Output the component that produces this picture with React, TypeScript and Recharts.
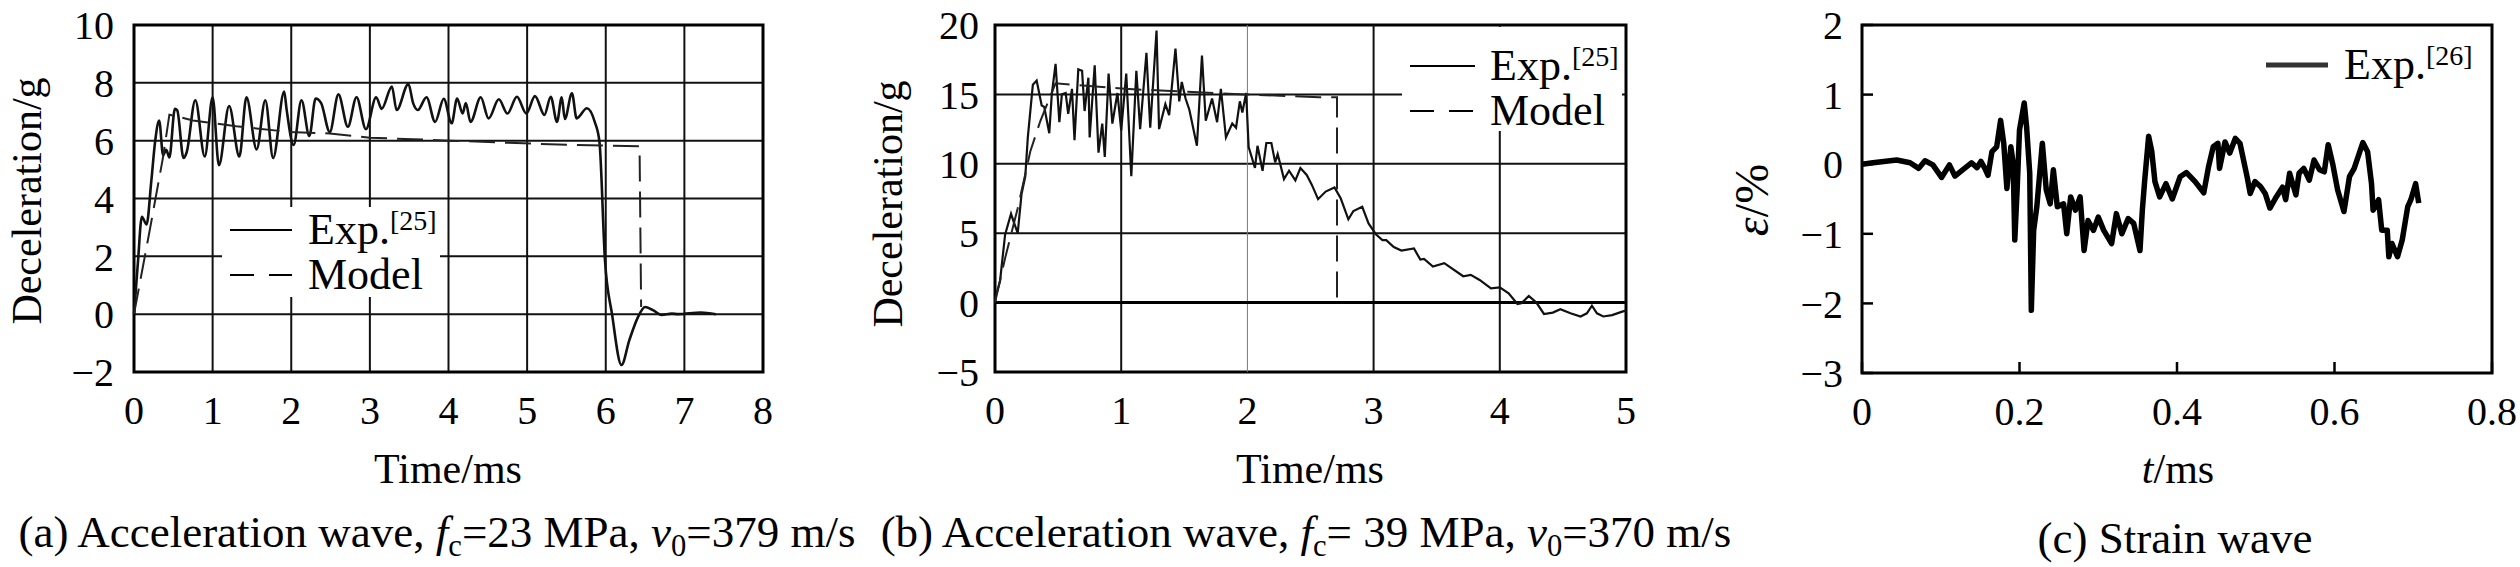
import type { ReactNode } from 'react'
import { CartesianGrid, Legend, Line, LineChart, ReferenceArea, ReferenceLine, XAxis, YAxis } from 'recharts'

const FONT = '"Liberation Serif", "Times New Roman", serif'

// (a) acceleration wave, fc = 23 MPa
const aTimeTicks = [0, 1, 2, 3, 4, 5, 6, 7, 8]
const aDecelTicks = [-2, 0, 2, 4, 6, 8, 10]
const aExp: [number, number][] = [
  [0, 0], [0.05, 1.8], [0.1, 3.37], [0.16, 3.1], [0.22, 4.6], [0.27, 6.0], [0.32, 6.7], [0.37, 5.5],
  [0.41, 5.68], [0.45, 5.42], [0.52, 7.1], [0.55, 7.05], [0.63, 5.4], [0.67, 5.6], [0.78, 7.4], [0.9, 5.45],
  [1.0, 7.5], [1.08, 5.15], [1.21, 7.2], [1.34, 5.45], [1.43, 7.5], [1.56, 5.7], [1.67, 7.4], [1.77, 5.4],
  [1.91, 7.7], [1.94, 7.1], [2.03, 5.85], [2.13, 7.4], [2.23, 6.16], [2.31, 7.46], [2.38, 7.3], [2.49, 6.3],
  [2.6, 7.6], [2.72, 6.48], [2.83, 7.5], [2.95, 6.4], [3.08, 7.5], [3.15, 7.1], [3.28, 7.87], [3.34, 7.06],
  [3.49, 7.96], [3.55, 7.3], [3.61, 7.06], [3.72, 7.5], [3.83, 6.65], [3.94, 7.45], [4.04, 6.6], [4.11, 7.46],
  [4.18, 6.94], [4.22, 7.3], [4.28, 6.65], [4.41, 7.5], [4.51, 6.77], [4.64, 7.43], [4.75, 6.94], [4.87, 7.52],
  [4.99, 6.94], [5.1, 7.54], [5.22, 6.89], [5.3, 7.52], [5.38, 6.65], [5.44, 7.5], [5.48, 6.75], [5.57, 7.64],
  [5.63, 6.77], [5.76, 7.12], [5.86, 6.65], [5.92, 5.96], [5.99, 1.87], [6.08, 0], [6.2, -1.76], [6.3, -0.9],
  [6.41, -0.1], [6.5, 0.25], [6.6, 0.14], [6.71, -0.03], [6.84, 0.02], [6.92, 0], [7.21, 0.06], [7.4, 0],
]
const aModel: [number, number][] = [
  [0, 0], [0.2, 2.9], [0.37, 5.44], [0.45, 6.9], [0.75, 6.7], [1.3, 6.5], [1.98, 6.3], [2.49, 6.25],
  [3.0, 6.1], [3.55, 6.05], [4.02, 6.0], [4.73, 5.93], [5.57, 5.85], [6.43, 5.81], [6.45, 0.25],
]

// (b) acceleration wave, fc = 39 MPa
const bTimeTicks = [0, 1, 2, 3, 4, 5]
const bDecelTicks = [-5, 0, 5, 10, 15, 20]
const bExp: [number, number][] = [
  [0, 0.24], [0.04, 1.56], [0.08, 4.9], [0.127, 6.4], [0.145, 5.9], [0.18, 5.0], [0.21, 7.8], [0.24, 9.1],
  [0.26, 11.9], [0.3, 15.7], [0.33, 16.0], [0.37, 14.2], [0.39, 14.1], [0.43, 12.2], [0.45, 15.0], [0.48, 17.2],
  [0.51, 13.0], [0.53, 15.0], [0.56, 15.1], [0.58, 13.6], [0.61, 15.4], [0.63, 11.7], [0.66, 16.8], [0.69, 16.7],
  [0.71, 13.8], [0.74, 16.2], [0.75, 11.9], [0.79, 17.1], [0.82, 10.8], [0.85, 12.9], [0.87, 10.5], [0.9, 16.5],
  [0.93, 12.9], [0.97, 15.1], [1.0, 12.4], [1.04, 16.5], [1.08, 9.1], [1.12, 16.7], [1.15, 12.5], [1.2, 18.0],
  [1.23, 12.6], [1.28, 19.6], [1.3, 12.5], [1.35, 14.3], [1.38, 13.5], [1.43, 18.3], [1.46, 14.5], [1.48, 15.9],
  [1.51, 14.7], [1.54, 13.9], [1.6, 11.3], [1.64, 17.8], [1.67, 13.1], [1.72, 14.7], [1.76, 13.0], [1.79, 15.4],
  [1.83, 11.9], [1.88, 12.9], [1.91, 12.6], [1.94, 14.5], [1.96, 13.7], [1.99, 15.1], [2.01, 11.2], [2.06, 9.7],
  [2.08, 11.3], [2.12, 9.5], [2.15, 11.5], [2.19, 11.5], [2.22, 10.1], [2.24, 10.7], [2.29, 8.9], [2.33, 9.5],
  [2.38, 8.8], [2.42, 9.7], [2.47, 9.2], [2.51, 8.5], [2.56, 7.45], [2.62, 8.0], [2.69, 8.3], [2.74, 7.5],
  [2.8, 6.0], [2.84, 6.6], [2.91, 6.9], [2.96, 5.7], [3.02, 4.9], [3.07, 4.5], [3.1, 4.5], [3.16, 4.0],
  [3.22, 3.75], [3.32, 3.9], [3.37, 3.1], [3.4, 3.15], [3.47, 2.6], [3.56, 2.84], [3.71, 1.9], [3.77, 2.0],
  [3.84, 1.63], [3.93, 1.03], [4.0, 1.1], [4.07, 0.67], [4.14, -0.1], [4.17, -0.05], [4.23, 0.48], [4.29, 0],
  [4.35, -0.82], [4.42, -0.72], [4.48, -0.48], [4.56, -0.77], [4.64, -1.0], [4.69, -0.77], [4.73, -0.22],
  [4.77, -0.77], [4.82, -1.0], [4.89, -0.9], [4.97, -0.65], [5.0, -0.58],
]
const bModel: [number, number][] = [
  [0, 0], [0.08, 3.2], [0.18, 6.8], [0.28, 10.9], [0.36, 13.1], [0.48, 15.8], [1.03, 15.4], [1.35, 15.26],
  [1.98, 15.0], [2.57, 14.8], [2.71, 14.8], [2.71, 0.2],
]

// (c) strain wave
const cTimeTicks = [0, 0.2, 0.4, 0.6, 0.8]
const cStrainTicks = [-3, -2, -1, 0, 1, 2]
const cExp: [number, number][] = [
  [0, 0], [0.014, 0.02], [0.044, 0.06], [0.061, 0.02], [0.072, -0.06], [0.08, 0.05], [0.09, -0.01],
  [0.101, -0.19], [0.111, -0.01], [0.118, -0.17], [0.129, -0.07], [0.139, 0.02], [0.146, -0.05], [0.151, 0.04],
  [0.156, -0.06], [0.16, -0.16], [0.165, 0.18], [0.171, 0.25], [0.176, 0.63], [0.18, 0.3], [0.184, -0.35],
  [0.189, 0.25], [0.192, 0.01], [0.194, -1.09], [0.197, -0.37], [0.2, 0.49], [0.206, 0.88], [0.209, 0.54],
  [0.213, -0.13], [0.215, -2.1], [0.218, -0.95], [0.222, -0.61], [0.229, 0.3], [0.234, -0.37], [0.239, -0.57],
  [0.243, -0.08], [0.248, -0.61], [0.256, -0.57], [0.26, -1.0], [0.265, -0.47], [0.271, -0.66], [0.277, -0.47],
  [0.282, -1.24], [0.287, -0.81], [0.294, -0.95], [0.3, -0.76], [0.307, -0.95], [0.317, -1.14], [0.323, -0.71],
  [0.33, -1.0], [0.338, -0.78], [0.345, -0.85], [0.353, -1.24], [0.356, -0.66], [0.359, -0.23], [0.364, 0.4],
  [0.368, 0.18], [0.372, -0.25], [0.378, -0.47], [0.386, -0.28], [0.394, -0.5], [0.404, -0.18], [0.412, -0.12],
  [0.423, -0.25], [0.434, -0.41], [0.44, -0.04], [0.446, 0.25], [0.452, 0.3], [0.454, -0.06], [0.461, 0.32],
  [0.467, 0.16], [0.474, 0.37], [0.48, 0.3], [0.489, -0.18], [0.493, -0.42], [0.499, -0.25], [0.506, -0.32],
  [0.512, -0.42], [0.518, -0.63], [0.525, -0.49], [0.534, -0.33], [0.538, -0.51], [0.543, -0.13], [0.551, -0.44],
  [0.555, -0.13], [0.561, -0.06], [0.568, -0.23], [0.574, 0.06], [0.581, -0.08], [0.587, -0.11], [0.592, 0.28],
  [0.598, -0.01], [0.604, -0.37], [0.612, -0.68], [0.619, -0.18], [0.625, -0.06], [0.636, 0.31], [0.642, 0.18],
  [0.647, -0.28], [0.649, -0.66], [0.656, -0.51], [0.66, -0.95], [0.667, -0.95], [0.669, -1.33], [0.673, -1.14],
  [0.68, -1.33], [0.686, -1.09], [0.693, -0.61], [0.697, -0.51], [0.703, -0.28], [0.707, -0.56],
]

const toRows = (points: [number, number][]) => points.map(([t, v]) => ({ t, v }))
const minus = (v: number) => String(v).replace('-', '\u2212')
const tickStyle = { fontFamily: FONT, fontSize: 40, fill: '#000' }

const seriesNotes: Record<string, string> = { 'Exp.a': '[25]', 'Exp.b': '[25]', 'Exp.c': '[26]' }

function LegendBox({ payload, panel, sample, gap, rowHeight, thick = 2 }: { payload?: any[]; panel: string; sample: number; gap: number; rowHeight: number; thick?: number }) {
  return (
    <div style={{ fontFamily: FONT, fontSize: 44, color: '#000', lineHeight: 1 }}>
      {(payload ?? []).map((entry) => {
        const props = entry.payload ?? {}
        const note = seriesNotes[`${entry.value}${panel}`]
        return (
          <div key={entry.value} style={{ display: 'flex', alignItems: 'center', height: rowHeight }}>
            <svg width={sample} height={10} style={{ flex: 'none' }}>
              <line
                x1={0}
                x2={sample}
                y1={5}
                y2={5}
                stroke={thick > 3 ? '#333' : '#000'}
                strokeWidth={thick}
                strokeDasharray={props.strokeDasharray ? '24 15' : undefined}
              />
            </svg>
            <span style={{ marginLeft: gap, whiteSpace: 'nowrap' }}>
              {entry.value}
              {note ? <sup style={{ fontSize: 28, verticalAlign: 14 }}>{note}</sup> : null}
            </span>
          </div>
        )
      })}
    </div>
  )
}

function Text({ x, y, size = 42, rotate = false, children }: { x: number; y: number; size?: number; rotate?: boolean; children: ReactNode }) {
  return (
    <div
      style={{
        position: 'absolute',
        left: x,
        top: y,
        transform: `translate(-50%, -50%)${rotate ? ' rotate(-90deg)' : ''}`,
        fontFamily: FONT,
        fontSize: size,
        lineHeight: 1,
        whiteSpace: 'nowrap',
        color: '#000',
      }}
    >
      {children}
    </div>
  )
}

const sub = { fontSize: '0.68em', verticalAlign: '-0.3em' }

function PanelA() {
  return (
    <div style={{ position: 'absolute', left: 0, top: 0 }}>
      <LineChart width={800} height={440} margin={{ top: 25, right: 37, bottom: 0, left: 0 }}>
        <CartesianGrid stroke="#111" strokeWidth={2} />
        <XAxis type="number" dataKey="t" domain={[0, 8]} ticks={aTimeTicks} interval={0} height={68} axisLine={false} tickLine={false} tickSize={0} tickMargin={24} tick={tickStyle} />
        <YAxis type="number" domain={[-2, 10]} ticks={aDecelTicks} interval={0} width={134} axisLine={false} tickLine={false} tickSize={0} tickMargin={20} tick={tickStyle} tickFormatter={minus} />
        <ReferenceArea x1={0} x2={8} y1={-2} y2={10} fill="none" stroke="#000" strokeWidth={3} />
        <Line data={toRows(aExp)} dataKey="v" name="Exp." type="monotone" stroke="#111" strokeWidth={2.6} dot={false} activeDot={false} isAnimationActive={false} />
        <Line data={toRows(aModel)} dataKey="v" name="Model" type="linear" stroke="#222" strokeWidth={2} strokeDasharray="26 10" dot={false} activeDot={false} isAnimationActive={false} />
        <Legend
          layout="vertical"
          align="center"
          verticalAlign="middle"
          wrapperStyle={{ left: 222, top: 207, width: 210, height: 90, background: '#fff', paddingLeft: 8 }}
          content={(props: any) => <LegendBox payload={props.payload} panel="a" sample={62} gap={16} rowHeight={45} />}
        />
      </LineChart>
    </div>
  )
}

function PanelB() {
  return (
    <div style={{ position: 'absolute', left: 840, top: 0 }}>
      <LineChart width={820} height={440} margin={{ top: 25, right: 34, bottom: 0, left: 0 }}>
        <CartesianGrid stroke="#111" strokeWidth={2} vertical={false} />
        {bTimeTicks.slice(1, -1).map((t) => (
          <ReferenceLine key={t} x={t} stroke={t === 2 ? '#777' : '#111'} strokeWidth={t === 2 ? 1 : 2} />
        ))}
        <ReferenceLine y={0} stroke="#000" strokeWidth={3} />
        <XAxis type="number" dataKey="t" domain={[0, 5]} ticks={bTimeTicks} interval={0} height={68} axisLine={false} tickLine={false} tickSize={0} tickMargin={24} tick={tickStyle} />
        <YAxis type="number" domain={[-5, 20]} ticks={bDecelTicks} interval={0} width={155} axisLine={false} tickLine={false} tickSize={0} tickMargin={16} tick={tickStyle} tickFormatter={minus} />
        <ReferenceArea x1={0} x2={5} y1={-5} y2={20} fill="none" stroke="#000" strokeWidth={3} />
        <Line data={toRows(bExp)} dataKey="v" name="Exp." type="linear" stroke="#111" strokeWidth={2.2} dot={false} activeDot={false} isAnimationActive={false} />
        <Line data={toRows(bModel)} dataKey="v" name="Model" type="linear" stroke="#222" strokeWidth={2} strokeDasharray="26 10" dot={false} activeDot={false} isAnimationActive={false} />
        <Legend
          layout="vertical"
          align="center"
          verticalAlign="middle"
          wrapperStyle={{ left: 562, top: 27, width: 220, height: 104, background: '#fff', paddingLeft: 8, paddingTop: 16, boxSizing: 'border-box' }}
          content={(props: any) => <LegendBox payload={props.payload} panel="b" sample={65} gap={15} rowHeight={45} />}
        />
      </LineChart>
    </div>
  )
}

function PanelC() {
  return (
    <div style={{ position: 'absolute', left: 1680, top: 0 }}>
      <LineChart width={840} height={440} margin={{ top: 25, right: 28, bottom: 0, left: 0 }}>
        <XAxis type="number" dataKey="t" domain={[0, 0.8]} ticks={cTimeTicks} interval={0} height={67} axisLine={false} tickLine={{ stroke: '#000', strokeWidth: 2.5 }} tickSize={-11} tickMargin={35} tick={tickStyle} />
        <YAxis type="number" domain={[-3, 2]} ticks={cStrainTicks} interval={0} width={182} axisLine={false} tickLine={{ stroke: '#000', strokeWidth: 2.5 }} tickSize={-11} tickMargin={30} tick={tickStyle} tickFormatter={minus} />
        <ReferenceArea x1={0} x2={0.8} y1={-3} y2={2} fill="none" stroke="#000" strokeWidth={3} />
        <Line data={toRows(cExp)} dataKey="v" name="Exp." type="linear" stroke="#000" strokeWidth={5.5} strokeLinejoin="round" dot={false} activeDot={false} isAnimationActive={false} />
        <Legend
          layout="vertical"
          align="center"
          verticalAlign="middle"
          wrapperStyle={{ left: 586, top: 42, width: 230, height: 45 }}
          content={(props: any) => <LegendBox payload={props.payload} panel="c" sample={62} gap={16} rowHeight={45} thick={5} />}
        />
      </LineChart>
    </div>
  )
}

export default function App() {
  return (
    <div style={{ position: 'absolute', left: 0, top: 0, width: 2520, height: 567, background: '#fff', overflow: 'hidden' }}>
      <PanelA />
      <PanelB />
      <PanelC />

      <Text x={27} y={201} rotate>Deceleration/g</Text>
      <Text x={448} y={469}>Time/ms</Text>
      <Text x={437} y={536} size={45}>
        (a) Acceleration wave, <i>f</i><span style={sub}>c</span>=23 MPa, <i>v</i><span style={sub}>0</span>=379 m/s
      </Text>

      <Text x={888} y={204} rotate>Deceleration/g</Text>
      <Text x={1310} y={469}>Time/ms</Text>
      <Text x={1306} y={536} size={45}>
        (b) Acceleration wave, <i>f</i><span style={sub}>c</span>= 39 MPa, <i>v</i><span style={sub}>0</span>=370 m/s
      </Text>

      <Text x={1752} y={200} size={48} rotate><i>ε</i>/%</Text>
      <Text x={2178} y={469}><i>t</i>/ms</Text>
      <Text x={2175} y={538} size={45}>(c) Strain wave</Text>
    </div>
  )
}
